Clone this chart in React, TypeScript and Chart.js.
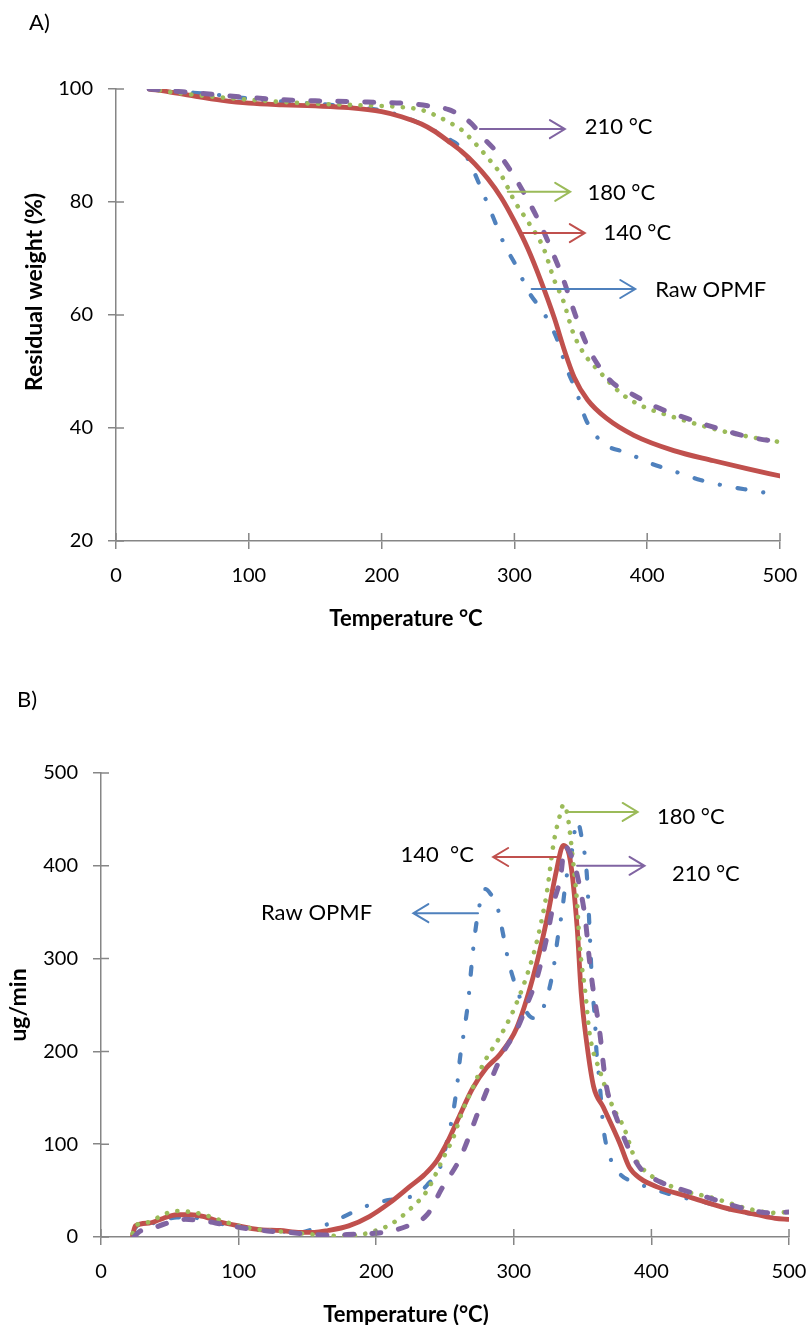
import React, { useEffect, useRef } from 'react';
import { Chart, registerables } from 'chart.js';

Chart.register(...registerables);

const FAM = 'Lato, "Open Sans", "Noto Sans", sans-serif';
const AXIS = '#868686';
const BLUE = '#4F81BD';
const RED = '#C0504D';
const GREEN = '#9BBB59';
const PURPLE = '#8064A2';

// ---------- A) TGA: residual weight (%) vs temperature (°C) ----------
const tgaRawT = [25, 50, 75, 100, 125, 150, 175, 200, 215, 230, 240, 250, 257, 265, 276, 284, 292, 302, 310, 323, 332, 339, 347, 354, 367, 385, 402, 422, 440, 460, 480, 500];
const tgaRawW = [100, 99.5, 99, 98.3, 97.8, 97.4, 96.9, 96.2, 95.2, 93.8, 92.6, 91.2, 90.2, 87.6, 81.8, 77.3, 72.7, 68.4, 64.4, 60, 55.8, 50.8, 46.2, 41.4, 37.3, 35.6, 33.8, 32.2, 30.8, 29.7, 28.9, 28.1];

const tga140T = [25, 40, 60, 80, 100, 125, 150, 175, 200, 215, 230, 240, 250, 260, 270, 280, 290, 300, 310, 320, 330, 338, 345, 355, 370, 390, 420, 450, 475, 500];
const tga140W = [100, 99.5, 98.7, 98, 97.5, 97.2, 97, 96.7, 96, 95.1, 93.8, 92.5, 90.8, 89, 86.8, 84.1, 80.8, 76.6, 71.8, 66, 59.5, 53.5, 49, 45, 41.6, 38.7, 36, 34.2, 32.8, 31.5];

const tga180T = [25, 50, 75, 100, 125, 150, 175, 200, 215, 230, 240, 250, 260, 270, 280, 290, 300, 310, 322, 330, 337, 344, 352, 364, 380, 395, 415, 440, 465, 500];
const tga180W = [100, 99.2, 98.6, 98.1, 97.7, 97.4, 97.2, 97, 96.8, 96.3, 95.4, 94.2, 92.8, 90.5, 87.8, 84.8, 80.2, 76.6, 71.8, 66.2, 62.4, 57, 53.3, 50, 46.2, 44, 42.3, 40.5, 39, 37.5];

const tga210T = [25, 50, 75, 100, 125, 150, 175, 200, 215, 236, 250, 259, 268, 276, 285, 293, 306, 318, 328, 337, 345, 354, 364, 374, 387, 407, 430, 452, 477, 500];
const tga210W = [100, 99.5, 99, 98.5, 98.1, 97.9, 97.8, 97.6, 97.5, 97, 96.4, 95.4, 93.8, 91.5, 89.3, 87, 82.1, 76.8, 71.5, 66.2, 60.6, 55, 50.8, 48, 46.2, 43.7, 41.7, 40, 38.4, 37.5];

const tgaXTicks = [0, 100, 200, 300, 400, 500];
const tgaYTicks = [20, 40, 60, 80, 100];

// ---------- B) DTG: ug/min vs temperature (°C) ----------
const dtgRawT = [23, 25, 35, 45, 55, 65, 75, 85, 100, 115, 130, 145, 155, 165, 175, 185, 196, 210, 220, 228, 237, 247, 251, 256, 259, 261, 264, 267, 269, 271, 274, 279, 283, 288, 292, 296, 302, 309, 314, 318, 325, 329, 332, 335, 338, 342, 346, 350, 353, 355, 357, 359, 360, 362, 363, 365, 369, 376, 387, 397, 416, 440, 464, 480, 493, 500];
const dtgRawV = [3, 10, 14, 18, 21, 21, 19, 15, 11, 8, 6, 5, 9, 14, 21, 28, 35, 40, 42, 45, 56, 77, 100, 135, 166, 194, 223, 256, 288, 317, 349, 375, 370, 356, 328, 298, 268, 243, 236, 238, 263, 291, 323, 350, 385, 414, 448, 425, 392, 334, 269, 234, 202, 172, 155, 119, 90, 70, 59, 54, 45, 37, 27, 24, 20, 22];

const dtg140T = [23, 25, 35, 45, 55, 65, 75, 85, 100, 115, 130, 145, 155, 165, 180, 195, 210, 225, 235, 244, 252, 261, 270, 280, 290, 302, 314, 324, 331, 336, 341, 346, 349, 353, 358, 365, 377, 384, 392, 404, 428, 452, 477, 490, 500];
const dtg140V = [2, 12, 15, 20, 24, 24, 22, 17, 12, 8, 7, 5, 5, 7, 12, 22, 37, 55, 67, 82, 103, 132, 160, 182, 197, 225, 280, 342, 395, 422, 406, 334, 263, 209, 162, 140, 101, 75, 63, 54, 43, 32, 24, 20, 19];

const dtg180T = [23, 25, 35, 45, 55, 65, 75, 85, 100, 115, 130, 145, 160, 175, 190, 200, 211, 226, 237, 249, 256, 263, 270, 278, 290, 300, 310, 317, 324, 329, 334, 336, 339, 343, 346, 348, 352, 355, 363, 372, 380, 388, 399, 421, 445, 469, 489, 500];
const dtg180V = [4, 12, 16, 24, 28, 27, 24, 19, 12, 8, 6, 4, 2, 1, 3, 7, 14, 32, 50, 86, 107, 137, 160, 187, 216, 245, 284, 320, 371, 425, 457, 466, 455, 406, 360, 313, 263, 220, 177, 140, 118, 85, 67, 51, 42, 31, 26, 27];

const dtg210T = [24, 28, 35, 46, 61, 76, 87, 102, 121, 136, 151, 166, 185, 196, 211, 226, 237, 248, 261, 275, 292, 302, 310, 317, 324, 329, 334, 337, 343, 348, 352, 355, 358, 362, 367, 375, 383, 392, 404, 416, 440, 464, 486, 500];
const dtg210V = [0, 6, 8, 14, 19, 17, 14, 10, 6.5, 5, 3, 2, 3, 3.6, 6.5, 14, 24, 53, 85, 138, 198, 223, 252, 280, 323, 360, 388, 421, 406, 377, 342, 298, 263, 226, 165, 127, 97, 74, 61, 54, 43, 32, 26, 27];

const dtgXTicks = [0, 100, 200, 300, 400, 500];
const dtgYTicks = [0, 100, 200, 300, 400, 500];

// ---------- helpers ----------
const pts = (xs: number[], ys: number[]) => xs.map((x, i) => ({ x, y: ys[i] }));

type Arrow = { color: string; y: number; from: number; to: number; label: string; labelX: number; labelY: number; align: CanvasTextAlign };
type TextItem = { text: string; x: number; y: number; size: number; bold?: boolean; rot?: boolean; align?: CanvasTextAlign };

const arrowsA: Arrow[] = [
  { color: PURPLE, y: 92.9, from: 274, to: 338, label: '210 °C', labelX: 353, labelY: 93.3, align: 'left' },
  { color: GREEN, y: 81.8, from: 295, to: 342, label: '180 °C', labelX: 355, labelY: 81.6, align: 'left' },
  { color: RED, y: 74.5, from: 306, to: 353, label: '140 °C', labelX: 367, labelY: 74.5, align: 'left' },
  { color: BLUE, y: 64.6, from: 313, to: 391, label: 'Raw OPMF', labelX: 406, labelY: 64.4, align: 'left' },
];
const arrowsB: Arrow[] = [
  { color: GREEN, y: 458, from: 339, to: 390, label: '180 °C', labelX: 404, labelY: 452.6, align: 'left' },
  { color: RED, y: 409.5, from: 331, to: 285, label: '140  °C', labelX: 271, labelY: 411.6, align: 'right' },
  { color: PURPLE, y: 400, from: 346, to: 395, label: '210 °C', labelX: 415, labelY: 391, align: 'left' },
  { color: BLUE, y: 349, from: 274, to: 227, label: 'Raw OPMF', labelX: 197, labelY: 349, align: 'right' },
];
const textsA: TextItem[] = [
  { text: 'A)', x: 29, y: 23, size: 22, align: 'left' },
  { text: 'Temperature °C', x: 406, y: 619, size: 22, bold: true },
  { text: 'Residual weight (%)', x: 35, y: 292, size: 23, bold: true, rot: true },
];
const textsB: TextItem[] = [
  { text: 'B)', x: 17, y: 50, size: 22, align: 'left' },
  { text: 'Temperature (°C)', x: 406, y: 665, size: 22, bold: true },
  { text: 'ug/min', x: 19, y: 355, size: 23, bold: true, rot: true },
];

const decor = (arrows: Arrow[], texts: TextItem[]) => ({
  id: 'decor',
  afterDraw(chart: any) {
    const { ctx, chartArea, scales } = chart;
    const xs = scales.x, ys = scales.y;
    ctx.save();
    // inner half of the cross tick marks
    ctx.strokeStyle = AXIS;
    ctx.lineWidth = 1.5;
    ctx.beginPath();
    xs.ticks.forEach((_: any, i: number) => {
      const p = xs.getPixelForTick(i);
      ctx.moveTo(p, chartArea.bottom);
      ctx.lineTo(p, chartArea.bottom - 8);
    });
    ys.ticks.forEach((_: any, i: number) => {
      const p = ys.getPixelForTick(i);
      ctx.moveTo(chartArea.left, p);
      ctx.lineTo(chartArea.left + 8, p);
    });
    ctx.stroke();
    // arrows with labels
    for (const a of arrows) {
      const yy = ys.getPixelForValue(a.y);
      const x0 = xs.getPixelForValue(a.from);
      const x1 = xs.getPixelForValue(a.to);
      const dir = Math.sign(x1 - x0);
      ctx.strokeStyle = a.color;
      ctx.lineWidth = 2;
      ctx.lineCap = 'round';
      ctx.beginPath();
      ctx.moveTo(x0, yy);
      ctx.lineTo(x1, yy);
      ctx.moveTo(x1 - dir * 15, yy - 9);
      ctx.lineTo(x1, yy);
      ctx.lineTo(x1 - dir * 15, yy + 9);
      ctx.stroke();
      ctx.fillStyle = '#000';
      ctx.font = `22px ${FAM}`;
      ctx.textAlign = a.align;
      ctx.textBaseline = 'middle';
      ctx.fillText(a.label, xs.getPixelForValue(a.labelX), ys.getPixelForValue(a.labelY));
    }
    // titles
    for (const t of texts) {
      ctx.save();
      ctx.fillStyle = '#000';
      ctx.font = `${t.bold ? 'bold ' : ''}${t.size}px ${FAM}`;
      ctx.textAlign = t.align || 'center';
      ctx.textBaseline = 'middle';
      ctx.translate(t.x, t.y);
      if (t.rot) ctx.rotate(-Math.PI / 2);
      ctx.fillText(t.text, 0, 0);
      ctx.restore();
    }
    ctx.restore();
  },
});

const lineStyles: Record<string, any> = {
  raw: { borderColor: BLUE, borderWidth: 4.2, borderDash: [8, 18, 0.1, 18], borderCapStyle: 'round', order: 4 },
  c140: { borderColor: RED, borderWidth: 4.8, borderCapStyle: 'round', order: 3 },
  c180: { borderColor: GREEN, borderWidth: 4.6, borderDash: [0.1, 10.5], borderCapStyle: 'round', order: 2 },
  c210: { borderColor: PURPLE, borderWidth: 5, borderDash: [9, 18], borderCapStyle: 'round', order: 1 },
};

const ds = (label: string, key: string, xs: number[], ys: number[]) => ({
  label,
  data: pts(xs, ys),
  pointRadius: 0,
  pointHoverRadius: 0,
  fill: false,
  cubicInterpolationMode: 'monotone',
  ...lineStyles[key],
});

const axis = (min: number, max: number, ticks: number[], fit: (s: any) => void) => ({
  type: 'linear',
  min,
  max,
  afterBuildTicks: (s: any) => { s.ticks = ticks.map((v) => ({ value: v })); },
  ticks: { font: { family: FAM, size: 20 }, color: '#000', padding: 15 },
  grid: { drawOnChartArea: false, drawTicks: true, tickLength: 8, color: AXIS, lineWidth: 1.5 },
  border: { display: true, color: AXIS, width: 1.5 },
  afterFit: (s: any) => {
    fit(s);
    s.paddingLeft = 0;
    s.paddingRight = 0;
    s.paddingTop = 0;
    s.paddingBottom = 0;
  },
});

const makeA = () => ({
  type: 'line',
  data: {
    datasets: [
      ds('Raw OPMF', 'raw', tgaRawT, tgaRawW),
      ds('140 °C', 'c140', tga140T, tga140W),
      ds('180 °C', 'c180', tga180T, tga180W),
      ds('210 °C', 'c210', tga210T, tga210W),
    ],
  },
  options: {
    animation: false,
    responsive: true,
    maintainAspectRatio: false,
    layout: { padding: { top: 89, right: 27, left: 0, bottom: 0 } },
    plugins: { legend: { display: false }, tooltip: { enabled: false } },
    scales: {
      x: axis(0, 500, tgaXTicks, (s: any) => { s.height = 109; }),
      y: axis(20, 100, tgaYTicks, (s: any) => { s.width = 116; }),
    },
  },
  plugins: [decor(arrowsA, textsA)],
});

const makeB = () => ({
  type: 'line',
  data: {
    datasets: [
      ds('Raw OPMF', 'raw', dtgRawT, dtgRawV),
      ds('140 °C', 'c140', dtg140T, dtg140V),
      ds('180 °C', 'c180', dtg180T, dtg180V),
      ds('210 °C', 'c210', dtg210T, dtg210V),
    ],
  },
  options: {
    animation: false,
    responsive: true,
    maintainAspectRatio: false,
    layout: { padding: { top: 123, right: 18, left: 0, bottom: 0 } },
    plugins: { legend: { display: false }, tooltip: { enabled: false } },
    scales: {
      x: axis(0, 500, dtgXTicks, (s: any) => { s.height = 88; }),
      y: axis(0, 500, dtgYTicks, (s: any) => { s.width = 101; }),
    },
  },
  plugins: [decor(arrowsB, textsB)],
});

const ChartBox: React.FC<{ top: number; height: number; make: () => any }> = ({ top, height, make }) => {
  const ref = useRef<HTMLCanvasElement>(null);
  useEffect(() => {
    const chart = new Chart(ref.current as HTMLCanvasElement, make());
    return () => chart.destroy();
  }, []);
  return (
    <div style={{ position: 'absolute', left: 0, top, width: 807, height }}>
      <canvas ref={ref} style={{ display: 'block' }} />
    </div>
  );
};

export default function App() {
  return (
    <div style={{ position: 'absolute', left: 0, top: 0, width: 807, height: 1325, background: '#fff', overflow: 'hidden' }}>
      <ChartBox top={0} height={650} make={makeA} />
      <ChartBox top={650} height={675} make={makeB} />
    </div>
  );
}
